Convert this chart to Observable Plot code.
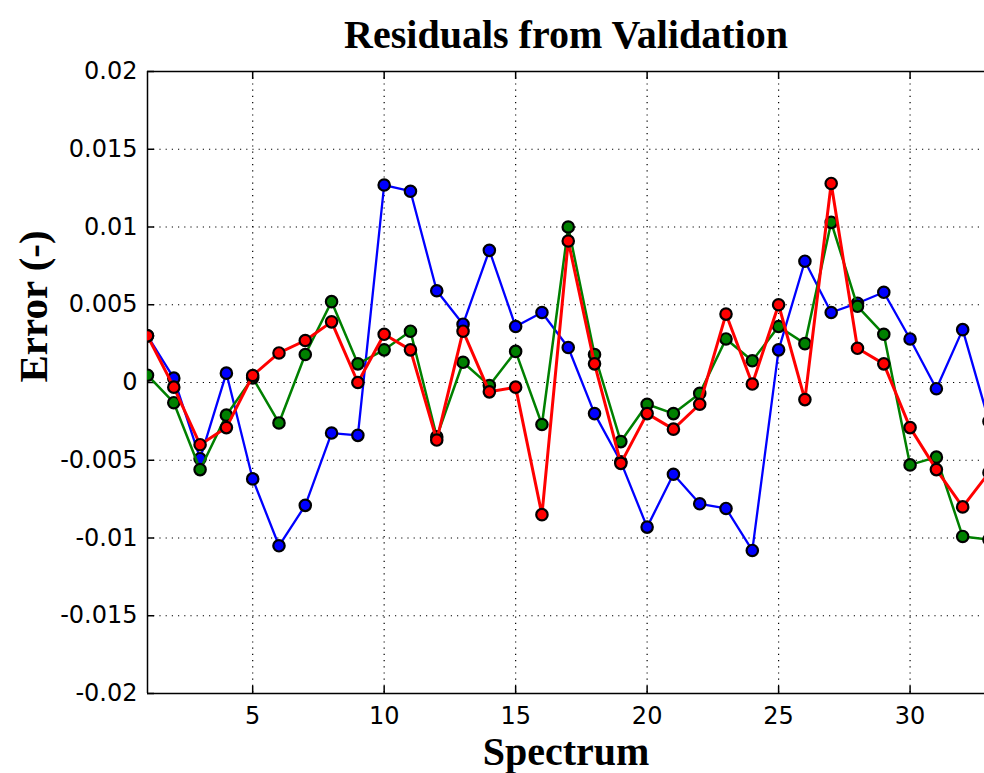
<!DOCTYPE html>
<html>
<head>
<meta charset="utf-8">
<script src="https://cdn.jsdelivr.net/npm/d3@7"></script>
<script src="https://cdn.jsdelivr.net/npm/@observablehq/plot@0.6"></script>
<style>
  html, body { margin: 0; padding: 0; background: #fff; overflow: hidden; }
</style>
</head>
<body>
<div id="chart"></div>
<script>
const spectrum = [1,2,3,4,5,6,7,8,9,10,11,12,13,14,15,16,17,18,19,20,21,22,23,24,25,26,27,28,29,30,31,32,33];
const blueSeries = [0.0030, 0.00028, -0.0049, 0.0006, -0.0062, -0.0105, -0.0079, -0.00325, -0.0034, 0.0127, 0.0123, 0.0059, 0.00375, 0.0085, 0.0036, 0.0045, 0.00225, -0.0020, -0.0051, -0.0093, -0.0059, -0.0078, -0.0081, -0.0108, 0.0021, 0.0078, 0.0045, 0.0051, 0.0058, 0.0028, -0.0004, 0.0034, -0.0025];
const greenSeries = [0.00047, -0.0013, -0.0056, -0.0021, 0.0003, -0.0026, 0.0018, 0.0052, 0.0012, 0.0021, 0.0033, -0.0035, 0.0013, -0.0002, 0.0020, -0.0027, 0.0100, 0.0018, -0.0038, -0.0014, -0.0020, -0.0007, 0.0028, 0.0014, 0.0036, 0.0025, 0.0103, 0.0049, 0.0031, -0.0053, -0.0048, -0.0099, -0.0101];
const redSeries = [0.0030, -0.0003, -0.0040, -0.0029, 0.00045, 0.0019, 0.0027, 0.0039, 0.0000, 0.0031, 0.0021, -0.0037, 0.0033, -0.0006, -0.0003, -0.0085, 0.0091, 0.0012, -0.0052, -0.0020, -0.0030, -0.0014, 0.0044, -0.0001, 0.0050, -0.0011, 0.0128, 0.0022, 0.0012, -0.0029, -0.0056, -0.0080, -0.0058];
const xTicks = [5, 10, 15, 20, 25, 30];
const yTicks = [-0.02, -0.015, -0.01, -0.005, 0, 0.005, 0.01, 0.015, 0.02];
const titleText = "Residuals from Validation";
const xLabel = "Spectrum";
const yLabel = "Error (-)";

const series = [
  {name: "blue", color: "#0000ff", values: blueSeries, width: 2.3},
  {name: "green", color: "#008000", values: greenSeries, width: 2.5},
  {name: "red", color: "#ff0000", values: redSeries, width: 3}
];

const dataMarks = [];
for (const s of series) {
  const rows = spectrum.map((x, i) => ({x, y: s.values[i]}));
  dataMarks.push(Plot.line(rows, {x: "x", y: "y", stroke: s.color, strokeWidth: s.width, clip: true}));
  dataMarks.push(Plot.dot(rows, {x: "x", y: "y", r: 5.7, fill: s.color, stroke: "black", strokeWidth: 2.2, clip: true}));
}

const serif = "'Liberation Serif', 'Times New Roman', serif";

const chart = Plot.plot({
  width: 984,
  height: 773,
  marginLeft: 147,
  marginRight: 0,
  marginTop: 71,
  marginBottom: 80,
  style: {fontFamily: "'DejaVu Sans', sans-serif", fontSize: "24px", background: "#fff", color: "#000"},
  x: {domain: [1, 32.83]},
  y: {domain: [-0.02, 0.02]},
  marks: [
    Plot.gridX(xTicks, {stroke: "#000", strokeOpacity: 1, strokeWidth: 1.2, strokeDasharray: "1.2,5"}),
    Plot.gridY(yTicks, {stroke: "#000", strokeOpacity: 1, strokeWidth: 1.2, strokeDasharray: "1.2,5"}),
    Plot.ruleY([-0.02, 0.02], {stroke: "#000", strokeWidth: 1.5}),
    Plot.ruleX([1], {stroke: "#000", strokeWidth: 1.5}),
    Plot.axisY({ticks: yTicks, tickSize: -7, tickPadding: 17, label: null, tickFormat: d => String(+d.toFixed(3)), fontSize: 24, strokeWidth: 1.5}),
    Plot.axisX({ticks: xTicks, tickSize: -7, tickPadding: 20, label: null, tickFormat: d => String(d), fontSize: 24, strokeWidth: 1.5}),
    Plot.axisX({anchor: "top", ticks: xTicks, tickSize: -7, label: null, tickFormat: () => "", strokeWidth: 1.5}),
    ...dataMarks,
    Plot.text([titleText], {frameAnchor: "top", dy: -52, fontFamily: serif, fontWeight: "bold", fontSize: 40, fill: "#000"}),
    Plot.text([xLabel], {frameAnchor: "bottom", dy: 71, fontFamily: serif, fontWeight: "bold", fontSize: 40, fill: "#000"}),
    Plot.text([yLabel], {frameAnchor: "left", dx: -114, rotate: -90, fontFamily: serif, fontWeight: "bold", fontSize: 41, fill: "#000"})
  ]
});
document.getElementById("chart").appendChild(chart);
</script>
</body>
</html>
